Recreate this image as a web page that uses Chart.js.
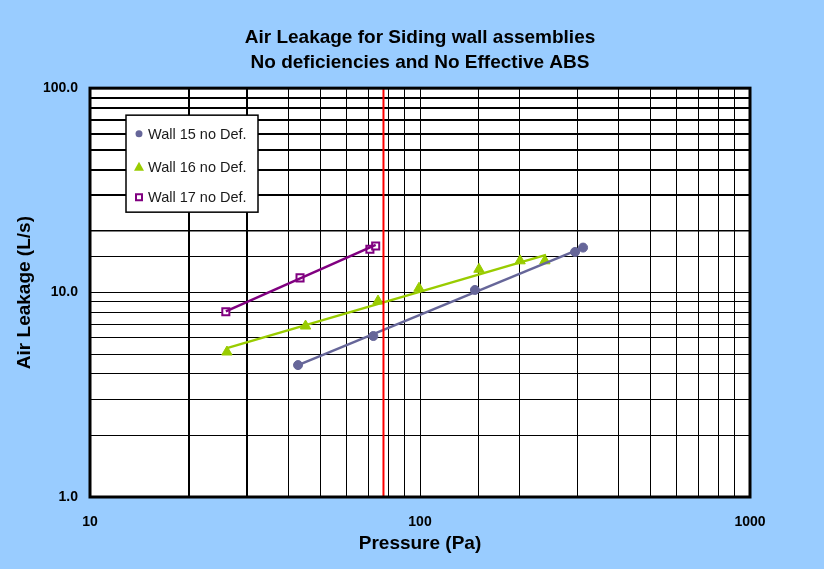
<!doctype html>
<html>
<head>
<title>Air Leakage</title>
<script src="https://cdn.jsdelivr.net/npm/chart.js@4.4.1/dist/chart.umd.min.js"></script>
<style>
body { margin: 0; background: #99ccff; }
</style>
</head>
<body>
<canvas id="canvas" width="824" height="569"></canvas>
<script>
// measured points (Pa, L/s)
var wall15Pressure = [42.7, 72.2, 146.7, 295, 312];
var wall15Leakage  = [4.42, 6.13, 10.3, 15.8, 16.6];
var wall16Pressure = [26.0, 45.0, 74.6, 99.3, 150.9, 201, 239];
var wall16Leakage  = [5.12, 6.86, 9.09, 10.5, 13.0, 14.3, 14.3];
var wall17Pressure = [25.8, 43.3, 70.5, 73.4];
var wall17Leakage  = [8.06, 11.8, 16.3, 16.9];

// trend lines, end points
var wall15FitPressure = [42.7, 312];
var wall15FitLeakage  = [4.42, 16.6];
var wall16FitPressure = [26.0, 241];
var wall16FitLeakage  = [5.35, 15.3];
var wall17FitPressure = [25.8, 73.4];
var wall17FitLeakage  = [8.1, 17.1];

// red reference line
var refPressure = [77.5, 77.5];
var refLeakage  = [1, 100];

var seriesLabels = ['Wall 15 no Def.', 'Wall 16 no Def.', 'Wall 17 no Def.'];
var xTickValues = [10, 100, 1000];
var yTickValues = [1, 10, 100];

var c15 = '#666699', c16 = '#99cc00', c17 = '#800080';
var fontMain = '"Liberation Sans", Arial, sans-serif';

function points(xs, ys) {
	return xs.map(function(x, i) { return {x: x, y: ys[i]}; });
}

var background = {
	id: 'background',
	beforeDraw: function(chart) {
		var ctx = chart.ctx, a = chart.chartArea;
		ctx.save();
		ctx.fillStyle = '#99ccff';
		ctx.fillRect(0, 0, chart.width, chart.height);
		ctx.fillStyle = '#ffffff';
		ctx.fillRect(a.left, a.top, a.right - a.left, a.bottom - a.top);
		ctx.restore();
	}
};

function marker(ctx, style, x, y, color) {
	ctx.save();
	ctx.fillStyle = color;
	ctx.strokeStyle = color;
	ctx.beginPath();
	if (style == 'circle') {
		ctx.arc(x, y, 3.5, 0, Math.PI * 2);
		ctx.fill();
	} else if (style == 'triangle') {
		ctx.moveTo(x, y - 5);
		ctx.lineTo(x + 5, y + 4);
		ctx.lineTo(x - 5, y + 4);
		ctx.closePath();
		ctx.fill();
	} else {
		ctx.fillStyle = '#fff';
		ctx.lineWidth = 2;
		ctx.rect(x - 3, y - 3, 6, 6);
		ctx.fill();
		ctx.stroke();
	}
	ctx.restore();
}

var frameAndLegend = {
	id: 'frameAndLegend',
	afterDatasetsDraw: function(chart) {
		var ctx = chart.ctx, a = chart.chartArea;
		ctx.save();
		ctx.strokeStyle = '#000';
		ctx.lineWidth = 3;
		ctx.strokeRect(a.left, a.top, a.right - a.left, a.bottom - a.top);

		// legend box
		var bx = a.left + 36, by = a.top + 27, bw = 132, bh = 97;
		ctx.fillStyle = '#fff';
		ctx.fillRect(bx, by, bw, bh);
		ctx.lineWidth = 1.5;
		ctx.strokeRect(bx, by, bw, bh);
		var styles = ['circle', 'triangle', 'rect'];
		var colors = [c15, c16, c17];
		var rows = [18.5, 51.5, 82];
		ctx.font = '14.5px ' + fontMain;
		ctx.textBaseline = 'middle';
		ctx.textAlign = 'left';
		for (var i = 0; i < seriesLabels.length; i++) {
			marker(ctx, styles[i], bx + 13, by + rows[i], colors[i]);
			ctx.fillStyle = '#1a1a1a';
			ctx.fillText(seriesLabels[i], bx + 22, by + rows[i] + 1);
		}
		ctx.restore();
	}
};

function isPow10(v) {
	var l = Math.log10(v);
	return Math.abs(l - Math.round(l)) < 1e-9;
}

var ctx = document.getElementById('canvas').getContext('2d');
window.myChart = new Chart(ctx, {
	type: 'scatter',
	data: {
		datasets: [{
			label: 'ref',
			data: points(refPressure, refLeakage),
			showLine: true, borderColor: '#ff0000', borderWidth: 2, pointRadius: 0
		}, {
			label: 'fit15',
			data: points(wall15FitPressure, wall15FitLeakage),
			showLine: true, borderColor: c15, borderWidth: 2.5, pointRadius: 0
		}, {
			label: 'fit16',
			data: points(wall16FitPressure, wall16FitLeakage),
			showLine: true, borderColor: c16, borderWidth: 2.5, pointRadius: 0
		}, {
			label: 'fit17',
			data: points(wall17FitPressure, wall17FitLeakage),
			showLine: true, borderColor: c17, borderWidth: 2.5, pointRadius: 0
		}, {
			label: seriesLabels[0],
			data: points(wall15Pressure, wall15Leakage),
			pointStyle: 'circle', pointRadius: 4.5, backgroundColor: c15, borderColor: c15, borderWidth: 1
		}, {
			label: seriesLabels[1],
			data: points(wall16Pressure, wall16Leakage),
			pointStyle: 'triangle', pointRadius: 6, backgroundColor: c16, borderColor: c16, borderWidth: 1
		}, {
			label: seriesLabels[2],
			data: points(wall17Pressure, wall17Leakage),
			pointStyle: 'rect', pointRadius: 5, backgroundColor: '#fff', borderColor: c17, borderWidth: 2
		}]
	},
	options: {
		responsive: false,
		animation: false,
		layout: { padding: { left: 0, right: 74, top: 0, bottom: 0 } },
		plugins: {
			legend: { display: false },
			tooltip: { enabled: false },
			title: {
				display: true,
				fullSize: false,
				text: ['Air Leakage for Siding wall assemblies', 'No deficiencies and No Effective ABS'],
				color: '#000',
				font: { family: fontMain, size: 19, weight: 'bold', lineHeight: 1.32 },
				padding: { top: 25.5, bottom: 12.5 }
			}
		},
		scales: {
			x: {
				type: 'logarithmic',
				min: 10, max: 1000,
				border: { display: false },
				grid: {
					color: '#000',
					drawTicks: false,
					lineWidth: function(c) {
						var v = c.tick ? c.tick.value : 0;
						return (v == 20 || v == 30) ? 2 : 1;
					}
				},
				ticks: {
					autoSkip: false, maxRotation: 0, padding: 17, color: '#000',
					font: { family: fontMain, size: 14, weight: 'bold' },
					callback: function(v) { return (isPow10(v) && xTickValues.indexOf(Math.round(v)) >= 0) ? String(Math.round(v)) : ''; }
				},
				title: {
					display: true, text: 'Pressure (Pa)', color: '#000',
					font: { family: fontMain, size: 19, weight: 'bold' },
					padding: { top: 0, bottom: 14 }
				},
				afterFit: function(s) { s.height = 72; }
			},
			y: {
				type: 'logarithmic',
				min: 1, max: 100,
				border: { display: false },
				grid: {
					color: '#000',
					drawTicks: false,
					lineWidth: function(c) {
						var v = c.tick ? c.tick.value : 0;
						if (v == 20) return 1.5;
						return (v > 20 && v < 100) ? 2 : 1;
					}
				},
				ticks: {
					autoSkip: false, padding: 12, color: '#000',
					font: { family: fontMain, size: 14, weight: 'bold' },
					callback: function(v) { return (isPow10(v) && yTickValues.indexOf(Math.round(v)) >= 0) ? v.toFixed(1) : ''; }
				},
				title: {
					display: true, text: 'Air Leakage (L/s)', color: '#000',
					font: { family: fontMain, size: 19, weight: 'bold' },
					padding: { top: 13, bottom: 0 }
				},
				afterFit: function(s) { s.width = 90; }
			}
		}
	},
	plugins: [background, frameAndLegend]
});
</script>
</body>
</html>
